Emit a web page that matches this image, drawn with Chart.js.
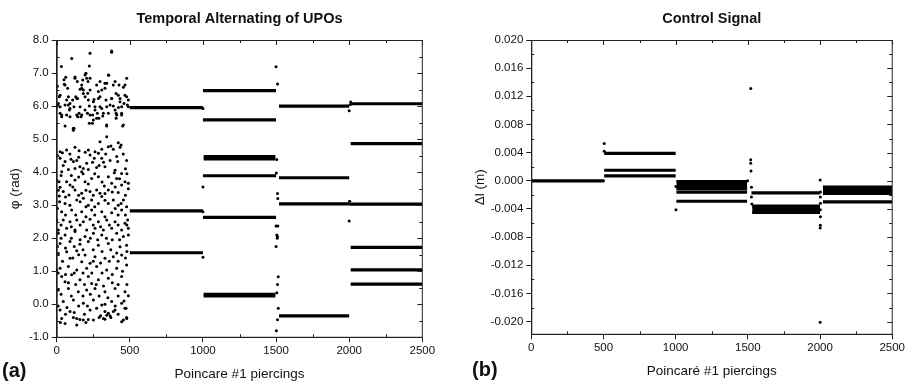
<!DOCTYPE html>
<html>
<head>
<meta charset="utf-8">
<script src="https://cdn.jsdelivr.net/npm/chart.js@4.4.1/dist/chart.umd.min.js"></script>
<style>
  html, body { margin: 0; padding: 0; background: #fff; }
  #wrap { position: relative; width: 907px; height: 384px; overflow: hidden; }
  #ca { position: absolute; left: 0; top: 0; }
  #cb { position: absolute; left: 455px; top: 0; }
  .tag { position: absolute; font: bold 20px "Liberation Sans", Arial, sans-serif; line-height: 20px; color: #111; }
</style>
</head>
<body>
<div id="wrap">
  <canvas id="ca" width="455" height="384"></canvas>
  <canvas id="cb" width="452" height="384"></canvas>
  <div class="tag" style="left:2px; top:360px">(a)</div>
  <div class="tag" style="left:472px; top:359px">(b)</div>
</div>
<script>
// ---- axes ----
const xTicks = [0, 500, 1000, 1500, 2000, 2500];
const xMinor = [250, 750, 1250, 1750, 2250];
const phiTicks = [-1, 0, 1, 2, 3, 4, 5, 6, 7, 8];
const phiMinor = [-0.5, 0.5, 1.5, 2.5, 3.5, 4.5, 5.5, 6.5, 7.5];
const dlTicks = [-0.020, -0.016, -0.012, -0.008, -0.004, 0, 0.004, 0.008, 0.012, 0.016, 0.020];
const dlMinor = [-0.018, -0.014, -0.010, -0.006, -0.002, 0.002, 0.006, 0.010, 0.014, 0.018];

// ---- (a) phase: chaotic part, piercing 0..500  [piercing, phi] ----
const chaosUpper = [
  [32,7.20],[103,7.44],[228,7.60],[376,7.67],[376,7.63],[223,7.21],[356,6.93],[200,6.99],[479,6.84],[5,6.60],
  [57,6.64],[50,6.80],[62,6.87],[125,6.88],[141,6.74],[178,6.79],[228,6.84],[214,6.74],[273,6.64],[296,6.74],
  [342,6.69],[399,6.74],[426,6.64],[456,6.57],[23,6.33],[18,6.28],[75,6.54],[80,6.28],[109,6.18],[137,6.23],
  [171,6.64],[160,6.51],[182,6.38],[194,6.28],[228,6.49],[255,6.20],[285,6.44],[296,6.28],[330,6.54],[337,6.18],
  [376,6.23],[406,6.38],[433,6.23],[467,6.33],[490,6.18],[460,6.08],[11,6.08],[57,6.03],[91,6.08],[118,5.98],
  [160,5.98],[194,5.88],[223,6.00],[262,5.98],[308,5.93],[342,5.98],[387,6.00],[422,5.96],[444,5.98],[483,6.03],
  [0,5.98],[23,5.78],[68,5.73],[87,5.88],[137,5.73],[171,5.73],[210,5.78],[246,5.73],[278,5.78],[315,5.70],
  [353,5.78],[406,5.78],[444,5.73],[34,5.68],[57,5.40],[118,5.33],[144,5.68],[223,5.48],[251,5.58],[289,5.63],
  [342,5.40],[406,5.63],[451,5.40],
  [7,6.03],[23,5.98],[34,5.73],[52,6.66],[68,6.18],[80,6.03],[91,5.93],[91,5.68],[114,5.33],[125,6.84],
  [130,6.28],[143,6.23],[153,5.78],[166,5.68],[171,6.54],[182,6.49],[194,6.94],[205,6.84],[212,6.39],[216,6.18],
  [228,5.73],[244,5.48],[251,6.13],[262,5.88],[273,5.63],[285,6.23],[296,5.98],[308,6.49],[319,5.78],[330,6.69],
  [342,5.43],[353,6.94],[365,6.03],[376,6.23],[387,6.64],[399,5.88],[410,5.73],[421,6.33],[433,6.13],[444,5.78],
  [456,5.43],[467,6.64],[478,6.28],[490,5.98]
];
const chaosMiddle = [
  [114,5.27],[342,5.07],[296,4.92],[371,4.79],[421,4.89],[440,4.82],[433,4.75],[125,4.75],[68,4.67],[23,4.62],
  [39,4.59],[153,4.65],[216,4.67],[262,4.62],[308,4.69],[353,4.77],[387,4.69],[228,4.52],[285,4.57],[335,4.55],
  [410,4.47],[98,4.39],[23,4.42],[137,4.35],[57,4.32],[114,4.32],[257,4.42],[308,4.42],[205,4.27],[417,4.32],
  [478,4.35],[125,4.11],[159,4.16],[182,4.11],[171,4.01],[216,4.08],[273,4.14],[330,4.16],[80,4.08],[34,4.01],
  [394,3.98],[444,3.96],[399,4.06],[0,3.76],[16,3.71],[68,3.71],[125,3.76],[194,3.71],[239,3.81],[285,3.86],
  [353,3.86],[410,3.81],[467,3.71],[490,3.66],[23,3.54],[91,3.61],[216,3.64],[326,3.58],[376,3.66],[444,3.61],
  [45,3.41],[125,3.46],[171,3.36],[228,3.41],[273,3.46],[296,3.36],[353,3.46],[421,3.38],[84,3.31],[18,3.28],
  [137,3.16],[182,3.21],[239,3.16],[308,3.26],[387,3.16],[456,3.16],[57,3.05],[216,3.00],[285,3.05],[353,3.05],
  [421,3.00],[478,2.95],[34,2.80],[102,2.85],[171,2.80],[239,2.85],[308,2.80],[376,2.77],[444,2.85],[0,2.55],
  [45,2.55],[91,2.50],[137,2.55],[182,2.50],[228,2.57],[285,2.50],[342,2.55],[399,2.50],[467,2.45],[485,2.55],
  [11,2.25],[68,2.30],[125,2.25],[205,2.25],[262,2.30],[319,2.25],[376,2.30],[444,2.25],[490,2.30],
  [5,4.50],[45,4.20],[90,4.55],[150,4.45],[195,4.60],[245,4.30],[290,4.20],[320,4.30],[365,4.35],[455,4.55],
  [470,4.10],[30,3.90],[100,3.90],[150,3.85],[180,3.95],[260,3.95],[310,3.70],[400,3.55],[430,3.80],[480,3.95],
  [10,3.45],[60,3.25],[110,3.55],[150,3.30],[200,3.45],[250,3.30],[330,3.35],[380,3.40],[470,3.30],[490,3.50],
  [20,3.10],[90,3.00],[160,3.10],[200,2.95],[260,2.95],[330,3.15],[400,2.90],[440,3.05],[5,2.90],[60,2.70],
  [130,2.70],[200,2.65],[260,2.70],[330,2.65],[420,2.70],[470,2.70],[30,2.40],[100,2.35],[160,2.40],[250,2.40],
  [300,2.35],[360,2.40],[420,2.40],[480,2.40]
];
const chaosLower = [
  [11,2.15],[57,2.10],[125,2.20],[194,2.05],[251,2.15],[308,2.10],[410,2.15],[456,2.05],[490,2.10],[23,1.84],
  [91,1.90],[159,1.82],[216,1.90],[285,1.79],[353,1.84],[433,1.74],[478,1.79],[11,1.54],[68,1.59],[137,1.62],
  [194,1.49],[262,1.44],[330,1.39],[387,1.44],[444,1.49],[91,1.39],[171,1.29],[228,1.24],[23,1.09],[0,1.04],
  [80,1.14],[137,1.04],[205,1.09],[273,1.14],[342,1.04],[410,1.09],[478,1.19],[34,0.84],[102,0.89],[159,0.74],
  [216,0.84],[285,0.74],[353,0.79],[444,0.84],[57,0.68],[239,0.63],[11,0.43],[80,0.48],[148,0.38],[205,0.43],
  [262,0.48],[330,0.38],[399,0.48],[467,0.38],[490,0.26],[45,0.08],[114,0.13],[182,0.03],[251,0.13],[308,-0.02],
  [376,0.08],[444,0.03],[23,-0.17],[91,-0.22],[228,-0.17],[273,-0.12],[330,-0.22],[399,-0.17],[467,-0.12],[474,-0.12],
  [34,-0.43],[114,-0.40],[137,-0.43],[182,-0.48],[216,-0.46],[319,-0.43],[342,-0.33],[353,-0.27],[365,-0.35],[387,-0.22],
  [456,-0.48],[478,-0.40],[57,-0.58],[137,-0.63],[444,-0.53],[251,-0.48],[159,-0.46],[479,-0.43],
  [30,2.00],[100,2.00],[160,1.95],[230,2.00],[280,1.95],[340,2.00],[380,1.95],[430,1.95],[5,1.75],[60,1.70],
  [120,1.75],[180,1.65],[250,1.65],[310,1.60],[370,1.65],[410,1.55],[480,1.60],[40,1.30],[110,1.40],[150,1.50],
  [250,1.30],[300,1.25],[360,1.30],[420,1.30],[470,1.40],[10,0.95],[60,0.90],[120,0.95],[180,0.95],[240,0.95],
  [310,0.95],[380,0.90],[450,1.00],[80,0.65],[130,0.60],[190,0.60],[270,0.60],[320,0.55],[380,0.65],[420,0.60],
  [480,0.60],[30,0.30],[100,0.25],[180,0.25],[230,0.30],[290,0.25],[350,0.20],[420,0.25],[10,-0.05],[70,-0.10],
  [150,-0.05],[210,-0.05],[330,0.00],[400,-0.05],[460,0.10],[60,-0.30],[120,-0.25],[190,-0.30],[300,-0.35],[370,-0.40],
  [420,-0.30],[25,-0.55],[200,-0.55],[290,-0.40],[330,-0.45]
];
// transients at the switching instants
const phiJumps = [
  [1000,5.93],[1000,3.55],[1000,1.42],[1000,2.80],[1500,7.19],[1510,6.67],[1505,4.38],[1502,3.97],[1510,3.35],
  [1512,3.20],[1500,2.37],[1512,2.37],[1505,2.10],[1510,2.05],[1508,2.00],[1500,1.75],[1515,0.83],[1510,0.60],
  [1515,-0.12],[1510,-0.47],[1502,-0.80],[1505,0.35],[2010,6.12],[2000,5.86],[2003,3.12],[2000,2.52],[2008,6.05]
];
// stabilised orbits: [from, to, phi]
const phiRuns = [
  [500,1000,5.95],[500,1000,2.83],[500,1000,1.56],
  [1000,1500,6.47],[1000,1500,5.58],[1005,1495,4.40],[1005,1495,4.47],[1000,1500,3.89],[1000,1500,2.63],
  [1005,1495,0.25],[1005,1495,0.30],
  [1520,2000,6.00],[1520,2000,3.83],[1520,2000,3.04],[1520,2000,-0.35],
  [2010,2500,6.07],[2010,2500,4.86],[2000,2500,3.03],[2010,2500,1.72],[2010,2500,1.04],[2010,2500,0.61]
];

// ---- (b) control signal ----
const dlRuns = [
  [0,500,0.0000],[505,1000,0.0039],[505,1000,0.0015],[505,1000,0.0007],
  [1005,1495,-0.0016],[1005,1495,-0.0029],[1525,2000,-0.0017],[2020,2500,-0.0030]
];
// dense alternating bands: [from, to, upper, lower]
const dlBands = [
  [1005,1495,-0.0001,-0.0011],[1530,2000,-0.0036,-0.0045],[2020,2500,-0.0009,-0.0018]
];
const dlJumps = [
  [505,0.0053],[505,0.0042],[500,0.0000],[1002,-0.0041],[1002,-0.0008],[1520,0.0131],[1520,0.0030],[1520,0.0025],
  [1522,0.0014],[1525,-0.0009],[1525,-0.0023],[1528,-0.0033],[1498,0.0000],[2001,0.0001],[2003,-0.0016],
  [2002,-0.0023],[2003,-0.0032],[2002,-0.0041],[2003,-0.0051],[2002,-0.0063],[2001,-0.0067],[2001,-0.0201]
];

Chart.defaults.font.family = "'Liberation Sans', Arial, sans-serif";
Chart.defaults.color = '#111';

const INK = '#000';
const AXIS = '#222';

const pts = list => list.map(([x, y]) => ({ x, y }));
const dots = list => ({ type: 'scatter', data: pts(list), pointRadius: 1.5, pointHoverRadius: 1.5,
  backgroundColor: INK, borderWidth: 0 });
const run = (x0, x1, y) => ({ type: 'line', data: [{ x: x0, y }, { x: x1, y }], borderColor: INK,
  borderWidth: 3.2, pointRadius: 0, borderCapStyle: 'butt', fill: false });

// frame + inward ticks (Origin style)
const frame = {
  id: 'frame',
  afterDraw(chart, args, o) {
    const { ctx, chartArea: a, scales: { x, y } } = chart;
    ctx.save();
    ctx.strokeStyle = AXIS;
    ctx.lineWidth = 1;
    ctx.strokeRect(a.left + 0.5, a.top + 0.5, a.right - a.left - 0.5, a.bottom - a.top - 0.5);
    ctx.beginPath();
    const vx = (v, len) => {
      const p = Math.round(x.getPixelForValue(v)) + 0.5;
      ctx.moveTo(p, a.top); ctx.lineTo(p, a.top + len);
      ctx.moveTo(p, a.bottom); ctx.lineTo(p, a.bottom - len);
    };
    const hy = (v, len) => {
      const p = Math.round(y.getPixelForValue(v)) + 0.5;
      ctx.moveTo(a.right, p); ctx.lineTo(a.right - len, p);
      ctx.moveTo(a.left, p); ctx.lineTo(a.left + len, p);
    };
    o.xMinor.forEach(v => vx(v, 3));
    o.yMinor.forEach(v => hy(v, 3));
    o.xMajor.forEach(v => {
      const p = Math.round(x.getPixelForValue(v)) + 0.5;
      ctx.moveTo(p, a.top); ctx.lineTo(p, a.top + 5);
    });
    o.yMajor.forEach(v => {
      const p = Math.round(y.getPixelForValue(v)) + 0.5;
      ctx.moveTo(a.right, p); ctx.lineTo(a.right - 5, p);
    });
    ctx.stroke();
    ctx.restore();
  }
};

function makeChart(el, cfg) {
  return new Chart(document.getElementById(el), {
    type: 'scatter',
    data: { datasets: cfg.datasets },
    options: {
      responsive: false,
      animation: false,
      layout: { padding: { left: 0, right: cfg.padRight, top: 0, bottom: 0 } },
      plugins: {
        legend: { display: false },
        tooltip: { enabled: false },
        title: { display: true, text: cfg.title, fullSize: false, color: '#111',
          font: { size: 14.5, weight: 'bold' }, padding: { top: 10.3, bottom: 12.3 } },
        frame: { xMajor: xTicks, xMinor: xMinor, yMajor: cfg.yTicks, yMinor: cfg.yMinor }
      },
      scales: {
        x: {
          type: 'linear', min: 0, max: 2500,
          afterBuildTicks: s => { s.ticks = xTicks.map(value => ({ value })); },
          afterFit: s => { s.height = cfg.xHeight; },
          ticks: { font: { size: 11.5 }, padding: 2, maxRotation: 0, autoSkip: false, callback: v => String(v) },
          grid: { drawOnChartArea: false, drawTicks: true, tickLength: 5, color: AXIS },
          border: { display: true, color: AXIS },
          title: { display: true, text: cfg.xTitle, font: { size: 13.5 }, padding: { top: 0, bottom: cfg.xTitlePad } }
        },
        y: {
          type: 'linear', min: cfg.yMin, max: cfg.yMax,
          afterBuildTicks: s => { s.ticks = cfg.yTicks.map(value => ({ value })); },
          afterFit: s => { s.width = cfg.yWidth; },
          ticks: { font: { size: 11.5 }, padding: 3, autoSkip: false, callback: cfg.fmt },
          grid: { drawOnChartArea: false, drawTicks: true, tickLength: 5, color: AXIS },
          border: { display: true, color: AXIS },
          title: { display: true, text: cfg.yTitle, font: { size: 13.5 }, padding: { top: cfg.yTitlePad, bottom: 0 } }
        }
      }
    },
    plugins: [frame]
  });
}

// (a)
makeChart('ca', {
  title: 'Temporal Alternating of UPOs',
  xTitle: 'Poincare #1 piercings',
  yTitle: 'φ (rad)',
  yMin: -1, yMax: 8, yTicks: phiTicks, yMinor: phiMinor,
  fmt: v => v.toFixed(1),
  padRight: 32.7, xHeight: 46.7, yWidth: 56.7, xTitlePad: 1.9, yTitlePad: 6.9,
  datasets: [
    ...phiRuns.map(r => run(r[0], r[1], r[2])),
    dots(chaosUpper), dots(chaosMiddle), dots(chaosLower), dots(phiJumps)
  ]
});

// (b)
const bandSets = [];
dlBands.forEach(([x0, x1, hi, lo]) => {
  bandSets.push(run(x0, x1, hi));
  bandSets.push(Object.assign(run(x0, x1, lo), { fill: '-1', backgroundColor: INK }));
});

makeChart('cb', {
  title: 'Control Signal',
  xTitle: 'Poincaré #1 piercings',
  yTitle: 'Δl (m)',
  yMin: -0.0218, yMax: 0.020, yTicks: dlTicks, yMinor: dlMinor,
  fmt: v => v.toFixed(3),
  padRight: 13, xHeight: 49.7, yWidth: 76.3, xTitlePad: 4.9, yTitlePad: 16.9,
  datasets: [
    ...dlRuns.map(r => run(r[0], r[1], r[2])),
    ...bandSets,
    dots(dlJumps)
  ]
});
</script>
</body>
</html>
